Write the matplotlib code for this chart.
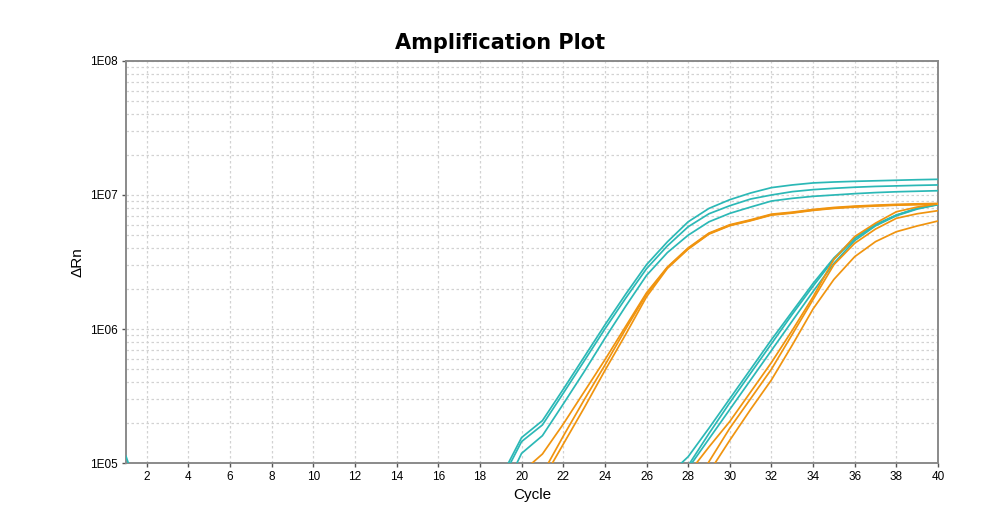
import numpy as np
import matplotlib
matplotlib.use("Agg")
import matplotlib.pyplot as plt
from matplotlib.ticker import FixedLocator, LogLocator, NullFormatter

# log10(dRn), one value per cycle from the start cycle
cyan_early_start = 19
cyan_early = [
    [4.89, 5.19, 5.316, 5.55, 5.79, 6.03, 6.26, 6.48, 6.65, 6.80, 6.90, 6.965,
     7.015, 7.055, 7.075, 7.09, 7.097, 7.102, 7.106, 7.11, 7.114, 7.117],
    [4.86, 5.16, 5.284, 5.52, 5.76, 6.00, 6.23, 6.45, 6.62, 6.763, 6.86, 6.92,
     6.97, 7.00, 7.025, 7.04, 7.05, 7.058, 7.064, 7.068, 7.072, 7.075],
    [4.75, 5.072, 5.204, 5.44, 5.68, 5.93, 6.17, 6.40, 6.57, 6.70, 6.80, 6.863,
     6.91, 6.955, 6.975, 6.99, 7.0, 7.01, 7.018, 7.024, 7.028, 7.032],
]

orange_early_start = 20
orange_early = [
    [4.93, 5.067, 5.29, 5.53, 5.77, 6.02, 6.27, 6.462, 6.605, 6.716, 6.778,
     6.815, 6.857, 6.872, 6.892, 6.907, 6.917, 6.924, 6.93, 6.934, 6.937],
    [4.70, 4.92, 5.20, 5.47, 5.73, 6.00, 6.26, 6.458, 6.600, 6.712, 6.774,
     6.811, 6.853, 6.868, 6.888, 6.903, 6.913, 6.92, 6.926, 6.93, 6.933],
    [4.65, 4.87, 5.14, 5.41, 5.69, 5.96, 6.24, 6.452, 6.596, 6.708, 6.771,
     6.808, 6.850, 6.865, 6.885, 6.9, 6.91, 6.918, 6.924, 6.928, 6.932],
]

cyan_late_start = 27
cyan_late = [
    [4.90, 5.047, 5.26, 5.48, 5.70, 5.92, 6.13, 6.34, 6.53, 6.68, 6.78, 6.85,
     6.90, 6.93],
    [4.80, 4.98, 5.22, 5.45, 5.67, 5.89, 6.11, 6.32, 6.52, 6.675, 6.775, 6.85,
     6.90, 6.93],
    [4.70, 4.96, 5.18, 5.40, 5.62, 5.84, 6.06, 6.28, 6.49, 6.66, 6.77, 6.845,
     6.895, 6.928],
]

orange_late_start = 28
orange_late = [
    [4.92, 5.12, 5.31, 5.53, 5.75, 5.99, 6.24, 6.52, 6.69, 6.79, 6.875, 6.91,
     6.935],
    [4.75, 5.01, 5.26, 5.48, 5.70, 5.96, 6.22, 6.48, 6.64, 6.746, 6.826, 6.86,
     6.883],
    [4.70, 4.93, 5.17, 5.40, 5.62, 5.88, 6.15, 6.37, 6.54, 6.652, 6.726, 6.769,
     6.806],
]

# the little cyan tail at the very first cycle
first_cycles = [1, 2]
first_values = [5.05, 4.6]

x_ticks = list(range(2, 41, 2))
y_ticks = [1e5, 1e6, 1e7, 1e8]
y_labels = ["1E05", "1E06", "1E07", "1E08"]

CYAN = "#2bb8b6"
ORANGE = "#f0940f"


def draw_group(ax, start, curves, color):
    for vals in curves:
        cycles = np.arange(start, start + len(vals))
        ax.plot(cycles, 10 ** np.array(vals), color=color, lw=1.25, zorder=3)


fig = plt.figure(figsize=(10, 5.24), dpi=100)
ax = fig.add_axes([0.126, 0.1164, 0.812, 0.7672])

ax.plot(first_cycles, 10 ** np.array(first_values), color=CYAN, lw=1.25,
        zorder=3)
draw_group(ax, cyan_early_start, cyan_early, CYAN)
draw_group(ax, cyan_late_start, cyan_late, CYAN)
draw_group(ax, orange_early_start, orange_early, ORANGE)
draw_group(ax, orange_late_start, orange_late, ORANGE)

ax.set_yscale("log")
ax.set_xlim(1, 40)
ax.set_ylim(1e5, 1e8)

ax.xaxis.set_major_locator(FixedLocator(x_ticks))
ax.set_yticks(y_ticks)
ax.set_yticklabels(y_labels)
ax.yaxis.set_minor_locator(LogLocator(base=10, subs=np.arange(2, 10)))
ax.yaxis.set_minor_formatter(NullFormatter())

ax.grid(True, which="major", axis="x", color="#d2d2d2", ls=(0, (2, 2)), lw=0.9)
ax.grid(True, which="both", axis="y", color="#d2d2d2", ls=(0, (2, 2)), lw=0.9)
ax.set_axisbelow(True)

for sp in ax.spines.values():
    sp.set_color("#8a8a8a")
    sp.set_linewidth(1.4)

ax.tick_params(axis="both", which="major", length=3, width=1, color="#555555",
               labelsize=8.5, pad=3)
ax.tick_params(axis="y", which="minor", length=0)
for lbl in ax.get_xticklabels() + ax.get_yticklabels():
    lbl.set_family("Liberation Sans")

ax.set_xlabel("Cycle", fontsize=11, family="Liberation Sans", labelpad=3)
ax.set_ylabel("ΔRn", fontsize=11, family="Liberation Sans", labelpad=4)
fig.text(0.5, 0.918, "Amplification Plot", fontsize=15, fontweight="bold",
         family="DejaVu Sans", ha="center", va="center")

fig.savefig("out.png", dpi=100, facecolor="white")
